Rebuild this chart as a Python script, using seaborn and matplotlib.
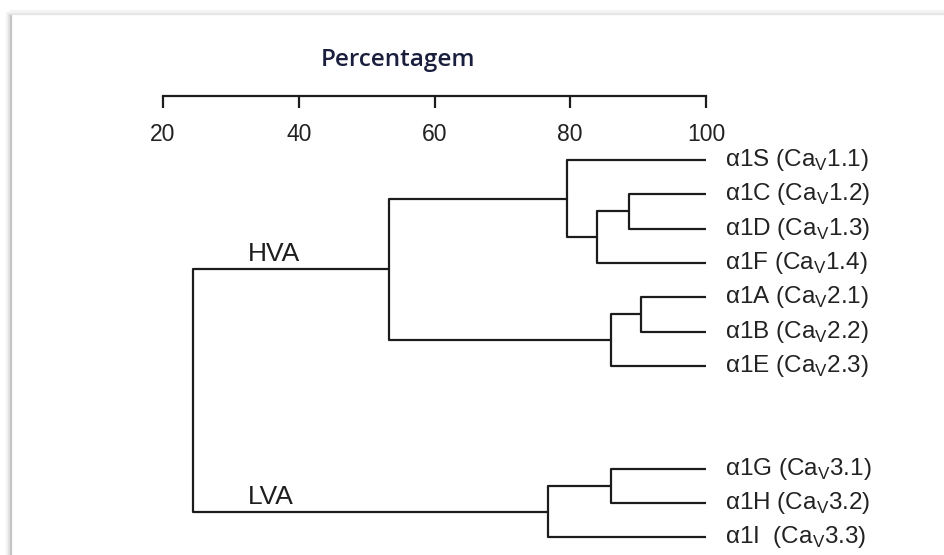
import numpy as np
import pandas as pd
import matplotlib
matplotlib.use("Agg")
import matplotlib.pyplot as plt
from matplotlib.lines import Line2D
import seaborn as sns

# --- data -----------------------------------------------------------------
subunits = ["α1S", "α1C", "α1D", "α1F", "α1A", "α1B", "α1E", "α1G", "α1H", "α1I "]
channels = ["1.1", "1.2", "1.3", "1.4", "2.1", "2.2", "2.3", "3.1", "3.2", "3.3"]
groups = ["HVA"] * 7 + ["LVA"] * 3

# merges: (left member, right member, new cluster name, similarity %)
merge_left = ["α1C", "CD", "α1S", "α1A", "AB", "Cav1", "α1G", "GH", "HVA"]
merge_right = ["α1D", "α1F", "CDF", "α1B", "α1E", "Cav2", "α1H", "α1I ", "LVA"]
merge_name = ["CD", "CDF", "Cav1", "AB", "Cav2", "HVA", "GH", "LVA", "root"]
merge_height = [88.6, 83.9, 79.5, 90.4, 86.0, 53.3, 86.0, 76.7, 24.4]

ticks = [20, 40, 60, 80, 100]
axis_title = "Percentagem"

# --- layout of the tree -----------------------------------------------------
sns.set_theme(style="white")
plt.rcParams["font.family"] = ["Liberation Sans", "DejaVu Sans"]
plt.rcParams["mathtext.fontset"] = "custom"
plt.rcParams["mathtext.rm"] = "Liberation Sans"

node_x = {}
node_y = {}
slot = 0.0
prev_group = None
for name, grp in zip(subunits, groups):
    if prev_group is not None and grp != prev_group:
        slot += 2
    node_x[name] = 100.0
    node_y[name] = slot
    slot += 1
    prev_group = grp

rows = []
for i, (l, r, n, h) in enumerate(zip(merge_left, merge_right, merge_name, merge_height)):
    node_x[n] = h
    node_y[n] = (node_y[l] + node_y[r]) / 2
    pts = [(node_x[l], node_y[l]), (h, node_y[l]), (h, node_y[r]), (node_x[r], node_y[r])]
    for k, (x, y) in enumerate(pts):
        rows.append({"link": i, "order": k, "x": x, "y": y})
links = pd.DataFrame(rows)

# --- figure -----------------------------------------------------------------
W, H, DPI = 945, 555, 100
fig = plt.figure(figsize=(W / DPI, H / DPI), dpi=DPI)
fig.patch.set_facecolor("white")

x0_px, x1_px = 163, 706
ax_left = x0_px / W
ax_width = (x1_px - x0_px) / W
ylo, yhi = -0.6, 11.4
y_top_px = 160 - 0.6 * 34.3
y_bot_px = 160 + 11.4 * 34.3
ax = fig.add_axes([ax_left, (H - y_bot_px) / H, ax_width, (y_bot_px - y_top_px) / H])

line_col = "#1c1c1c"
sns.lineplot(data=links, x="x", y="y", units="link", estimator=None, sort=False,
             color=line_col, linewidth=1.6, ax=ax, legend=False)
ax.set_xlim(20, 100)
ax.set_ylim(yhi, ylo)
ax.axis("off")

# leaf labels
for name, ch in zip(subunits, channels):
    ax.annotate(f"{name} (Ca$_{{\\mathrm{{V}}}}${ch})", (100, node_y[name]),
                xytext=(19, 0), textcoords="offset pixels",
                ha="left", va="center", fontsize=17.5, color="#222222",
                annotation_clip=False)

# group labels above their branches
for grp in ["HVA", "LVA"]:
    ax.annotate(grp, (32.5, node_y[grp]), xytext=(0, 3), textcoords="offset pixels",
                ha="left", va="bottom", fontsize=19, color="#1e1e1e",
                annotation_clip=False)

# percentage scale
scale_y_px = 96
sax = fig.add_axes([ax_left, (H - scale_y_px) / H, ax_width, 0.0001])
sax.set_xlim(20, 100)
sax.set_ylim(0, 1)
for s in ["top", "left", "right"]:
    sax.spines[s].set_visible(False)
sax.spines["bottom"].set_color(line_col)
sax.spines["bottom"].set_linewidth(1.6)
sax.set_yticks([])
sax.set_xticks(ticks)
sax.set_xticklabels([str(t) for t in ticks])
sax.tick_params(axis="x", direction="out", length=8.5, width=1.6, color=line_col,
                pad=11, labelsize=16.5, labelcolor="#222222", bottom=True)
sax.set_facecolor("none")
sax.annotate(axis_title, (54.6, 0), xycoords=sax.get_xaxis_transform(),
             xytext=(0, 24), textcoords="offset pixels",
             ha="center", va="bottom", fontsize=17.5, color="#1a1f3d",
             family=["Open Sans", "DejaVu Sans"], fontweight="semibold",
             annotation_clip=False)

# panel border with a soft shadow along the left and top edges
for off, c, lw in [(-3, "#f2f2f2", 3), (-1.5, "#e2e2e2", 2), (0, "#c4c4c4", 1.6)]:
    fig.add_artist(Line2D([(11 + off) / W, (11 + off) / W], [0, 1 - 14 / H],
                          color=c, linewidth=lw, transform=fig.transFigure))
for off, c, lw in [(-2, "#f4f4f4", 3), (0, "#e6e6e6", 1.6)]:
    fig.add_artist(Line2D([11 / W, 1], [1 - (14 + off) / H, 1 - (14 + off) / H],
                          color=c, linewidth=lw, transform=fig.transFigure))

fig.savefig("out.png", dpi=DPI, facecolor="white")
